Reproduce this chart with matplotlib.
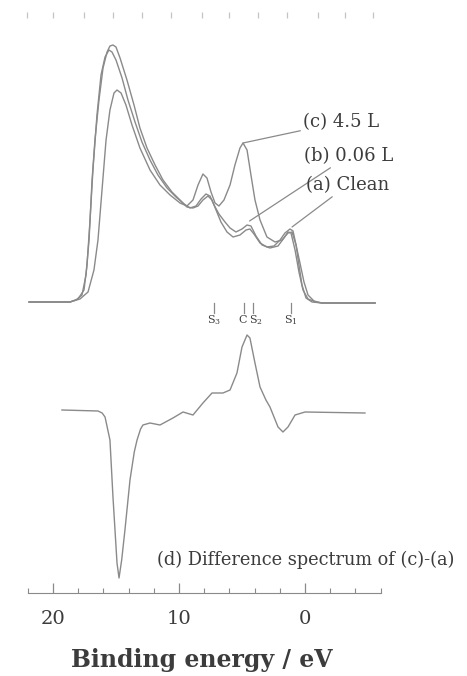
import numpy as np
import matplotlib
matplotlib.use("Agg")
import matplotlib.pyplot as plt

plt.rcParams['font.family'] = ['DejaVu Serif']
plt.rcParams['mathtext.fontset'] = 'dejavuserif'

# UPS spectra, binding energy (eV) vs intensity (arb. units)
e_clean = [21.9, 18.65, 18.17, 17.70, 17.38, 17.14, 16.90, 16.67, 16.35, 16.03, 15.71, 15.48,
           15.24, 15.0, 14.68, 14.13, 13.57, 13.10, 12.54, 11.90, 11.27, 10.56, 9.92, 9.37,
           8.89, 8.49, 8.10, 7.70, 7.38, 7.06, 6.67, 6.19, 5.71, 5.16, 4.68, 4.37, 4.05, 3.57,
           3.02, 2.46, 1.98, 1.59, 1.19, 0.95, 0.71, 0.48, 0.24, -0.08, -0.56, -1.35, -5.56]
i_clean = [0, 0, 2, 7, 27, 62, 122, 162, 202, 234, 250, 256,
           257, 255, 244, 222, 197, 174, 154, 137, 122, 110, 102, 95,
           94, 96, 102, 106, 102, 92, 80, 70, 65, 67, 72, 73, 68, 59,
           55, 56, 62, 69, 73, 71, 57, 37, 17, 4, 0, -1, -1]

e_006 = [21.9, 18.65, 18.02, 17.54, 17.30, 17.06, 16.83, 16.51, 16.19, 15.87, 15.56, 15.32,
         15.0, 14.52, 14.05, 13.49, 12.94, 12.30, 11.67, 10.95, 10.24, 9.60, 9.13, 8.65,
         8.25, 7.86, 7.54, 7.22, 6.83, 6.35, 5.95, 5.48, 5.0, 4.60, 4.29, 3.89, 3.41,
         2.78, 2.14, 1.67, 1.35, 1.11, 0.79, 0.48, 0.16, -0.24, -0.87, -1.35, -5.56]
i_006 = [0, 0, 3, 12, 37, 82, 132, 187, 227, 245, 252, 250,
         242, 224, 202, 180, 160, 142, 127, 114, 105, 98, 94, 96,
         103, 108, 106, 97, 88, 80, 74, 70, 73, 77, 76, 66, 57,
         54, 56, 64, 70, 69, 52, 30, 12, 3, 0, -1, -1]

e_45 = [21.9, 18.65, 17.86, 17.22, 16.75, 16.43, 16.11, 15.79, 15.48, 15.16, 14.92, 14.60,
        14.21, 13.73, 13.10, 12.30, 11.51, 10.71, 9.92, 9.37, 8.89, 8.49, 8.10, 7.78,
        7.46, 7.14, 6.83, 6.43, 5.95, 5.56, 5.16, 4.92, 4.60, 4.29, 3.97, 3.57, 3.02,
        2.38, 1.83, 1.35, 1.03, 0.71, 0.40, 0.08, -0.24, -0.71, -1.35, -5.56]
i_45 = [0, 0, 3, 10, 32, 62, 112, 162, 192, 209, 212, 209,
        197, 177, 154, 132, 117, 107, 99, 96, 102, 117, 128, 124,
        110, 99, 96, 102, 117, 137, 154, 159, 152, 127, 102, 82, 65,
        60, 62, 69, 70, 57, 39, 20, 7, 1, -1, -1]

# difference spectrum (c)-(a)
e_diff = [19.29, 16.43, 16.1, 15.87, 15.48, 15.24, 14.92, 14.76, 14.55, 14.29, 13.89, 13.55,
          13.33, 13.05, 12.86, 12.30, 11.51, 10.48, 9.68, 8.89, 8.10, 7.38, 6.51, 5.95,
          5.40, 5.0, 4.60, 4.37, 3.97, 3.57, 3.1, 2.78, 2.14, 1.75, 1.35, 0.79, 0.0, -4.76]
i_diff = [0, -1, -3, -7, -30, -87, -153, -168, -150, -120, -70, -42,
          -30, -19, -15, -13, -15, -8, -2, -5, 7, 17, 17, 20,
          37, 63, 75, 72, 47, 23, 10, 3, -17, -22, -17, -5, -2, -3]

# surface state / carbon markers
mark_e = [7.22, 4.84, 4.13, 1.11]
mark_lbl = ['S$_3$', 'C', 'S$_2$', 'S$_1$']
mark_dx = [0.0, 0.1, -0.25, 0.0]

top_ticks = [22.1, 20.0, 17.5, 15.2, 12.9, 10.6, 8.2, 6.0, 3.7, 1.4, -1.0, -3.2, -5.4]

line_c = '#8a8a8a'
text_c = '#3c3c3c'
up = 374     # baseline of the three spectra
low = 266    # baseline of the difference spectrum

fig = plt.figure(figsize=(4.67, 6.76), dpi=100)
ax = fig.add_axes([0, 0, 1, 1])
ax.set_xlim(305 / 12.6, (305 - 467) / 12.6)
ax.set_ylim(0, 676)

for e, i in [(e_clean, i_clean), (e_006, i_006), (e_45, i_45)]:
    ax.plot(e, np.array(i) + up, color=line_c, lw=1.0)
ax.plot(e_diff, np.array(i_diff) + low, color=line_c, lw=1.0)

# leader lines to the labels
pk = int(np.argmax(np.array(e_45) < 5.0))
ann = dict(arrowprops=dict(arrowstyle='-', color=line_c, lw=0.9, shrinkA=0, shrinkB=0),
           fontsize=13, color=text_c, va='center', ha='left')
ax.annotate('(c) 4.5 L', xy=(e_45[pk], i_45[pk] + up), xytext=(0.15, 554), **ann)
ax.annotate('(b) 0.06 L', xy=(4.4, 455), xytext=(0.1, 520), **ann)
ax.annotate('(a) Clean', xy=(1.03, 449), xytext=(-0.1, 491), **ann)

for e, lbl, dx in zip(mark_e, mark_lbl, mark_dx):
    ax.plot([e, e], [363, 373], color=line_c, lw=0.9)
    ax.text(e + dx, 356, lbl, fontsize=8, color=text_c, ha='center', va='center')

ax.text(11.75, 116, '(d) Difference spectrum of (c)-(a)', fontsize=12.8,
        color=text_c, ha='left', va='center')

# faint ticks along the top edge
ax.plot(top_ticks, [661] * len(top_ticks), ls='none', marker='|', ms=5, color='#c4c4c4', mew=0.9)

# energy axis
for s in ['top', 'left', 'right']:
    ax.spines[s].set_visible(False)
ax.spines['bottom'].set_position(('data', 83))
ax.spines['bottom'].set_bounds(22, -6)
ax.spines['bottom'].set_color(line_c)
ax.set_xticks([20, 10, 0])
ax.set_xticks([e for e in range(-6, 23, 2) if e % 10], minor=True)
ax.tick_params(axis='x', which='major', direction='in', length=7, width=0.9, color=line_c,
               labelsize=14, labelcolor=text_c, pad=12)
ax.tick_params(axis='x', which='minor', direction='in', length=3.5, width=0.8, color=line_c)
ax.set_yticks([])
ax.text(8.2, 16, 'Binding energy / eV', fontsize=17, fontweight='bold', color=text_c,
        ha='center', va='center')

fig.savefig('out.png', dpi=100, facecolor='white')
